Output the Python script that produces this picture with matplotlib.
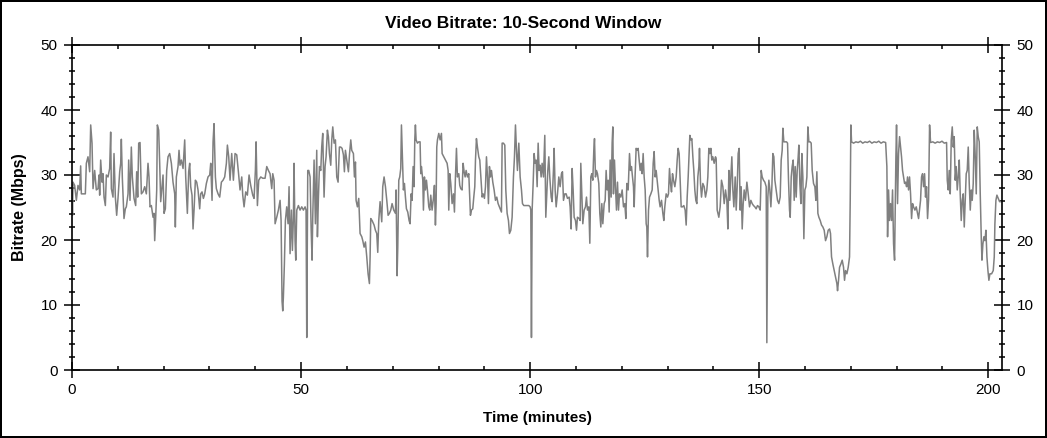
import matplotlib
matplotlib.use("Agg")
import matplotlib.pyplot as plt
from matplotlib.ticker import MultipleLocator

# 10-second window bitrate (minutes, Mbps)
t_seg1 = [0.00, 0.10, 0.22, 0.58, 0.95, 1.31, 1.67, 1.89, 2.04, 2.40,
          2.91, 3.13, 3.49, 3.86, 4.08, 4.37, 4.59, 4.95, 5.31, 5.68,
          5.90, 6.04, 6.26, 6.55, 6.77, 6.99, 7.28, 7.50, 7.86, 8.22,
          8.44, 8.59, 8.95, 9.17, 9.46, 9.75, 10.04, 10.41, 10.63, 10.77,
          10.99, 11.35, 11.64, 11.86, 12.23, 12.37, 12.66, 12.95, 13.17, 13.54,
          13.90, 14.12, 14.34, 14.56, 14.85, 15.14, 15.50, 15.87, 16.23, 16.59,
          16.81, 17.03, 17.32, 17.69, 17.90, 18.05, 18.27, 18.49, 18.63, 18.92,
          19.14, 19.36, 19.65, 19.87, 20.09, 20.38, 20.67, 20.96, 21.32, 21.69,
          22.05, 22.42, 22.56, 22.78, 23.14, 23.36, 23.58, 23.87, 24.24, 24.60,
          24.82, 25.18, 25.47, 25.69, 25.91, 26.20, 26.42, 26.64, 26.93, 27.22,
          27.51, 27.87, 28.09, 28.38, 28.68, 28.97, 29.33, 29.69, 30.06, 30.28,
          30.57, 30.79, 31.00, 31.30, 31.51, 31.88, 32.24, 32.61, 32.97, 33.33,
          33.70, 33.92, 34.21]
v_seg1 = [28.4, 23.8, 28.9, 28.4, 26.1, 28.4, 27.7, 31.4, 27.1, 27.1,
          27.1, 31.8, 32.8, 30.5, 37.7, 34.9, 27.9, 30.7, 27.7, 27.9,
          30.0, 26.9, 32.3, 28.9, 30.2, 26.6, 25.3, 30.0, 29.7, 31.0,
          36.6, 27.9, 26.6, 33.3, 26.6, 23.8, 26.4, 30.5, 31.8, 35.5,
          29.5, 23.3, 24.8, 25.1, 27.1, 32.3, 26.1, 34.3, 29.7, 26.4,
          25.3, 30.5, 26.6, 34.9, 35.0, 27.1, 27.4, 28.2, 27.1, 31.8,
          29.7, 25.1, 25.3, 23.5, 24.1, 19.9, 23.5, 27.7, 37.7, 36.9,
          31.8, 25.9, 28.2, 30.0, 24.1, 24.8, 30.7, 32.8, 33.3, 31.8,
          28.9, 27.1, 22.0, 29.7, 31.3, 33.8, 31.5, 32.3, 31.0, 35.4,
          29.7, 24.1, 30.5, 31.8, 28.2, 26.9, 21.7, 24.6, 29.2, 28.9,
          27.7, 24.8, 27.1, 27.4, 26.4, 27.1, 28.7, 29.7, 30.0, 31.8,
          26.1, 35.1, 37.9, 29.7, 27.9, 27.1, 26.6, 28.9, 29.2, 29.7,
          31.8, 34.6, 32.8]

t_seg2 = [34.50, 34.86, 35.23, 35.59, 35.96, 36.32, 36.68, 37.05, 37.27, 37.56,
          37.92, 38.28, 38.65, 39.01, 39.45, 39.74, 40.03, 40.18, 40.47, 40.76,
          41.20, 41.63, 42.14, 42.51, 42.87, 43.23, 43.60, 43.82, 44.11, 44.33,
          44.69, 45.05, 45.42, 45.64, 45.85, 46.00, 46.14, 46.36, 46.58, 46.87,
          47.16, 47.38, 47.60, 47.89, 48.11, 48.33, 48.47, 48.69, 48.84, 49.06,
          49.42, 49.78, 50.15, 50.51, 50.88, 51.09, 51.24, 51.46, 51.68, 51.97,
          52.19, 52.40, 52.55, 52.84, 53.13, 53.42, 53.57, 53.79, 54.01, 54.30,
          54.51, 54.73, 55.02, 55.24, 55.46, 55.75, 55.97, 56.19, 56.48, 56.70,
          56.92, 57.21, 57.50, 57.79, 58.08, 58.37, 58.66, 58.95, 59.25, 59.46,
          59.68, 59.97, 60.34, 60.56, 60.85, 61.06, 61.43, 61.65, 61.87, 62.01,
          62.30, 62.59, 62.88, 63.25, 63.47, 63.76, 64.05, 64.34, 64.63, 64.92,
          65.07, 65.21, 65.50, 65.94, 66.23, 66.52, 66.74, 66.96, 67.25, 67.61,
          67.83, 68.12, 68.42, 68.71, 69.00, 69.29, 69.58]
v_seg2 = [29.2, 33.3, 29.2, 33.3, 33.1, 30.5, 27.7, 29.7, 26.9, 25.1,
          27.4, 26.9, 30.0, 28.4, 26.9, 26.4, 30.7, 35.1, 25.3, 29.2,
          29.7, 29.5, 29.5, 31.3, 30.7, 30.2, 27.9, 30.2, 29.2, 22.5,
          23.5, 24.6, 26.1, 23.0, 10.6, 9.1, 11.2, 16.3, 23.0, 25.1,
          22.5, 28.2, 17.9, 24.6, 18.4, 23.5, 31.8, 19.9, 16.9, 24.6,
          25.3, 24.6, 25.1, 24.6, 25.1, 24.6, 5.0, 30.7, 30.7, 29.7,
          22.0, 16.9, 23.5, 32.3, 22.5, 33.8, 20.5, 26.6, 31.3, 30.7,
          34.3, 36.4, 26.6, 31.3, 32.8, 36.9, 35.9, 33.3, 31.5, 35.4,
          37.4, 34.9, 35.4, 29.7, 28.9, 34.3, 34.3, 34.1, 33.1, 30.5,
          33.8, 32.3, 30.5, 33.1, 35.4, 33.8, 33.3, 29.7, 32.0, 26.1,
          25.1, 26.4, 21.0, 20.5, 19.9, 18.9, 19.7, 17.4, 14.8, 13.3,
          17.4, 23.3, 23.0, 22.3, 21.5, 21.0, 18.1, 23.0, 25.9, 22.8,
          28.2, 29.7, 28.2, 26.1, 23.8, 24.1, 24.6]

t_seg3 = [69.87, 70.23, 70.60, 70.74, 70.96, 71.11, 71.33, 71.54, 71.76, 71.91,
          72.13, 72.34, 72.56, 72.78, 73.00, 73.29, 73.58, 73.80, 74.02, 74.24,
          74.46, 74.67, 74.82, 74.96, 75.11, 75.40, 75.69, 75.98, 76.13, 76.27,
          76.57, 76.71, 76.93, 77.15, 77.37, 77.58, 77.88, 78.09, 78.31, 78.60,
          78.89, 79.11, 79.33, 79.48, 79.62, 79.77, 80.06, 80.35, 80.64, 80.79,
          81.15, 81.51, 81.88, 82.10, 82.24, 82.46, 82.68, 82.97, 83.26, 83.48,
          83.70, 83.92, 84.13, 84.43, 84.64, 84.86, 85.15, 85.37, 85.59, 85.81,
          86.03, 86.32, 86.61, 86.76, 86.97, 87.19, 87.48, 87.70, 87.92, 88.07,
          88.28, 88.50, 88.79, 89.01, 89.23, 89.38, 89.52, 89.74, 90.03, 90.25,
          90.47, 90.69, 90.90, 91.12, 91.34, 91.56, 91.85, 92.14, 92.43, 92.72,
          93.01, 93.30, 93.60, 93.74, 93.89, 94.18, 94.47, 94.69, 94.98, 95.27,
          95.49, 95.78, 96.07, 96.36, 96.58, 96.80, 97.02, 97.23, 97.53, 97.82,
          98.11, 98.33, 98.62, 98.98, 99.35, 99.71, 100.00, 100.15, 100.29, 100.44,
          100.66, 100.87, 101.09, 101.31, 101.53, 101.75, 101.97, 102.18, 102.40, 102.62,
          102.91, 103.20, 103.42, 103.64, 103.86, 104.08, 104.29, 104.59, 104.80, 105.09]
v_seg3 = [25.6, 24.6, 24.1, 27.7, 14.5, 18.9, 29.2, 29.7, 31.0, 37.7,
          32.3, 27.7, 28.7, 26.6, 24.8, 24.3, 23.0, 22.5, 27.1, 26.1,
          31.3, 28.2, 35.4, 37.7, 35.4, 34.9, 35.1, 35.1, 30.2, 31.3,
          29.2, 24.6, 29.7, 27.7, 29.2, 27.7, 25.1, 24.6, 26.9, 24.6,
          26.4, 28.4, 22.3, 25.6, 34.3, 35.4, 36.4, 35.4, 36.4, 33.3,
          32.8, 32.3, 31.8, 30.7, 24.6, 30.2, 28.7, 25.6, 27.1, 24.3,
          29.7, 34.1, 29.7, 30.2, 28.4, 27.9, 27.7, 31.8, 30.5, 29.7,
          30.7, 29.7, 30.2, 27.7, 23.8, 24.6, 24.8, 26.6, 28.2, 32.3,
          35.6, 34.3, 32.8, 32.3, 29.7, 28.2, 26.6, 27.1, 26.4, 28.2,
          32.8, 29.7, 25.6, 31.3, 29.7, 30.7, 28.9, 27.7, 26.1, 26.6,
          25.6, 25.1, 24.6, 24.3, 34.9, 34.9, 34.6, 27.7, 24.1, 23.0,
          21.0, 21.5, 23.5, 29.7, 32.8, 37.7, 33.8, 30.7, 34.9, 29.7,
          27.7, 25.6, 25.3, 25.3, 25.3, 25.3, 25.1, 24.6, 5.0, 24.6,
          28.7, 33.3, 31.8, 32.3, 28.2, 34.9, 30.7, 31.5, 29.7, 31.8,
          29.7, 36.1, 23.5, 27.1, 30.7, 32.8, 29.7, 26.6, 25.9, 30.7]

t_seg4 = [105.24, 105.46, 105.68, 105.97, 106.26, 106.55, 106.84, 107.06, 107.28, 107.57,
          107.86, 108.15, 108.52, 108.73, 108.95, 109.17, 109.39, 109.61, 109.90, 110.12,
          110.33, 110.70, 110.92, 111.06, 111.28, 111.50, 111.79, 112.08, 112.30, 112.52,
          112.81, 113.03, 113.25, 113.46, 113.68, 113.90, 114.05, 114.26, 114.48, 114.70,
          114.99, 115.21, 115.43, 115.65, 115.87, 116.16, 116.38, 116.59, 116.81, 117.03,
          117.25, 117.47, 117.69, 117.90, 118.05, 118.19, 118.41, 118.63, 118.85, 119.07,
          119.29, 119.50, 119.80, 120.09, 120.38, 120.67, 120.89, 121.11, 121.40, 121.69,
          121.91, 122.12, 122.34, 122.56, 122.71, 122.93, 123.14, 123.36, 123.58, 123.80,
          124.02, 124.24, 124.45, 124.67, 124.89, 125.11, 125.33, 125.47, 125.62, 125.84,
          126.06, 126.35, 126.64, 126.86, 127.07, 127.29, 127.51, 127.73, 127.95, 128.17,
          128.38, 128.68, 128.97, 129.18, 129.40, 129.69, 129.99, 130.20, 130.42, 130.64,
          130.86, 131.08, 131.30, 131.59, 131.88, 132.10, 132.31, 132.53, 132.75, 132.97,
          133.26, 133.55, 133.84, 134.06, 134.28, 134.50, 134.72, 134.86, 135.08, 135.30,
          135.52, 135.73, 135.95, 136.17, 136.39, 136.61, 136.83, 136.97, 137.19, 137.41,
          137.70, 137.99, 138.28, 138.57, 138.79, 139.01, 139.23, 139.45, 139.66, 139.88,
          140.17, 140.46]
v_seg4 = [34.1, 27.7, 25.1, 27.1, 29.7, 28.2, 30.2, 30.5, 26.1, 27.1,
          27.1, 26.4, 26.6, 25.1, 21.7, 31.0, 27.7, 23.5, 23.0, 21.5,
          23.5, 23.3, 23.0, 31.8, 27.1, 22.5, 24.6, 25.1, 26.6, 24.6,
          25.1, 19.5, 29.7, 30.2, 29.2, 33.8, 35.6, 29.7, 30.7, 30.2,
          28.7, 24.1, 22.0, 25.6, 22.5, 25.6, 26.1, 30.7, 27.7, 29.2,
          24.3, 32.3, 26.6, 34.9, 37.4, 27.1, 32.3, 28.2, 24.6, 28.9,
          24.6, 27.1, 26.6, 27.7, 25.1, 25.6, 23.3, 28.7, 27.7, 33.3,
          30.7, 31.3, 29.7, 28.2, 25.1, 30.2, 34.1, 33.8, 34.1, 32.3,
          30.7, 31.8, 30.2, 33.3, 29.7, 27.7, 22.5, 22.0, 17.4, 24.6,
          26.6, 27.1, 27.7, 31.8, 33.6, 29.7, 30.7, 29.2, 27.7, 26.1,
          25.1, 26.1, 24.1, 23.0, 25.1, 27.1, 26.6, 27.1, 31.0, 28.7,
          27.4, 30.2, 29.2, 28.2, 29.7, 32.3, 34.1, 33.3, 29.2, 25.1,
          25.1, 25.3, 24.6, 22.3, 26.6, 29.7, 33.8, 36.1, 35.4, 35.6,
          32.8, 30.7, 27.7, 26.1, 25.6, 29.7, 31.3, 34.1, 28.7, 26.6,
          28.7, 28.2, 26.6, 27.7, 29.7, 34.1, 33.3, 34.1, 32.3, 32.8,
          31.8, 32.8]

t_seg5 = [140.61, 140.83, 141.19, 141.48, 141.77, 142.07, 142.36, 142.65, 142.94, 143.16,
          143.38, 143.59, 143.81, 144.03, 144.25, 144.47, 144.76, 144.98, 145.20, 145.41,
          145.63, 145.85, 146.07, 146.29, 146.51, 146.72, 147.01, 147.31, 147.60, 147.89,
          148.18, 148.47, 148.76, 149.05, 149.34, 149.63, 149.93, 150.22, 150.44, 150.65,
          150.94, 151.24, 151.53, 151.67, 151.89, 152.11, 152.33, 152.55, 152.77, 152.98,
          153.20, 153.42, 153.71, 154.00, 154.29, 154.58, 154.80, 155.02, 155.17, 155.38,
          155.68, 155.97, 156.19, 156.40, 156.62, 156.77, 156.99, 157.20, 157.42, 157.64,
          157.86, 158.08, 158.30, 158.51, 158.66, 158.88, 159.10, 159.31, 159.53, 159.75,
          159.97, 160.19, 160.41, 160.62, 160.84, 161.13, 161.35, 161.57, 161.86, 162.15,
          162.37, 162.59, 162.81, 163.03, 163.32, 163.61, 163.90, 164.19, 164.48, 164.77,
          165.06, 165.36, 165.57, 165.79, 166.08, 166.37, 166.67, 166.96, 167.10, 167.32,
          167.54, 167.83, 168.12, 168.41, 168.63, 168.85, 169.14, 169.43, 169.72, 169.87,
          170.01, 170.16, 170.6, 171.1, 171.6, 172.1, 172.6, 173.1, 173.6, 174.1,
          174.6, 175.1, 175.6, 176.1, 176.6, 177.1, 177.6]
v_seg5 = [32.5, 24.6, 23.5, 25.1, 29.2, 28.2, 25.6, 27.7, 26.1, 21.7,
          30.7, 26.1, 29.7, 32.8, 27.7, 25.1, 29.7, 24.6, 28.2, 33.3,
          34.1, 24.6, 28.2, 21.7, 25.6, 27.7, 26.1, 28.9, 27.1, 25.1,
          26.1, 25.6, 25.3, 25.1, 24.8, 25.3, 25.1, 24.6, 30.7, 29.7,
          29.2, 28.9, 28.2, 4.2, 26.6, 29.2, 27.7, 25.1, 28.2, 33.3,
          32.8, 29.2, 27.7, 26.1, 25.6, 26.6, 32.3, 33.8, 37.2, 35.1,
          35.1, 35.1, 34.9, 29.2, 24.6, 23.5, 29.7, 31.3, 32.3, 26.1,
          31.3, 26.6, 30.7, 32.8, 34.6, 28.7, 25.6, 33.3, 29.7, 20.2,
          27.7, 28.2, 29.7, 37.4, 35.1, 35.1, 34.9, 30.7, 28.7, 28.2,
          26.1, 30.5, 24.1, 23.5, 23.0, 22.3, 22.0, 21.5, 19.9, 20.5,
          21.5, 21.7, 21.0, 17.4, 16.3, 15.3, 14.3, 13.3, 12.2, 13.8,
          15.8, 16.3, 16.9, 15.8, 13.8, 15.3, 14.8, 15.8, 17.4, 26.1,
          37.7, 35.1, 34.9, 35.1, 35.0, 35.2, 34.9, 35.1, 35.0, 35.2,
          34.9, 35.1, 35.0, 35.2, 34.9, 35.1, 35.0]

t_seg6 = [177.87, 178.02, 178.24, 178.45, 178.67, 178.89, 179.11, 179.33, 179.55, 179.69,
          179.84, 179.98, 180.20, 180.42, 180.64, 180.86, 181.07, 181.29, 181.51, 181.73,
          181.95, 182.17, 182.38, 182.60, 182.82, 183.04, 183.26, 183.48, 183.69, 183.99,
          184.28, 184.57, 184.79, 185.00, 185.22, 185.44, 185.66, 185.88, 186.10, 186.31,
          186.53, 186.75, 186.97, 187.19, 187.41, 187.9, 188.4, 188.9, 189.4, 189.9,
          190.4, 190.90, 191.05, 191.26, 191.48, 191.70, 191.92, 192.14, 192.36, 192.57,
          192.79, 193.01, 193.23, 193.45, 193.67, 193.88, 194.10, 194.32, 194.54, 194.76,
          194.98, 195.19, 195.41, 195.63, 195.85, 196.07, 196.29, 196.50, 196.72, 196.94,
          197.16, 197.38, 197.60, 197.81, 198.03, 198.25, 198.47, 198.62, 198.83, 199.05,
          199.27, 199.49, 199.71, 199.93, 200.14, 200.36, 200.73, 201.09, 201.31, 201.45,
          201.67, 201.89, 202.18, 202.47, 202.76]
v_seg6 = [31.3, 20.5, 27.7, 23.0, 25.6, 23.0, 27.7, 19.4, 16.9, 24.6,
          32.8, 37.7, 25.6, 33.3, 35.9, 34.3, 32.8, 30.7, 29.7, 28.7,
          28.9, 28.2, 29.7, 27.7, 29.7, 27.1, 23.3, 25.6, 25.1, 24.6,
          25.1, 24.1, 23.3, 24.6, 26.1, 29.7, 30.2, 28.2, 30.2, 26.6,
          28.2, 23.3, 26.1, 37.7, 35.0, 35.1, 34.9, 35.1, 35.0, 35.2,
          34.9, 35.0, 29.2, 27.7, 30.7, 27.1, 35.4, 37.4, 34.3, 35.9,
          29.2, 31.3, 27.7, 29.7, 32.3, 27.1, 23.0, 26.1, 27.1, 22.0,
          26.1, 30.2, 30.7, 34.3, 28.7, 24.6, 27.7, 26.1, 28.7, 36.9,
          32.8, 27.1, 37.4, 35.9, 35.1, 27.1, 20.5, 16.9, 19.4, 20.5,
          19.9, 21.5, 17.4, 15.3, 13.8, 14.8, 14.8, 15.3, 17.4, 22.5,
          26.1, 26.9, 26.4, 25.9, 25.9]

minutes = t_seg1 + t_seg2 + t_seg3 + t_seg4 + t_seg5 + t_seg6
mbps = v_seg1 + v_seg2 + v_seg3 + v_seg4 + v_seg5 + v_seg6
assert len(minutes) == len(mbps), (len(minutes), len(mbps))

plt.rcParams['font.family'] = ['Liberation Sans', 'DejaVu Sans']

fig = plt.figure(figsize=(10.47, 4.38), dpi=100)
fig.patch.set_facecolor('white')
fig.patch.set_edgecolor('black')
fig.patch.set_linewidth(1.5)

ax = fig.add_axes([72/1047, 1 - 370/438, (1002-72)/1047, (370-45)/438])
ax.plot(minutes, mbps, color='#808080', linewidth=1.1)

ax.set_xlim(0, 203)
ax.set_ylim(0, 50)
ax.xaxis.set_major_locator(MultipleLocator(50))
ax.xaxis.set_minor_locator(MultipleLocator(10))
ax.yaxis.set_major_locator(MultipleLocator(10))
ax.yaxis.set_minor_locator(MultipleLocator(2))

for s in ax.spines.values():
    s.set_linewidth(1.2)

ax.tick_params(axis='both', which='both', top=True, right=True,
               labelright=True, labelsize=11, width=1.1, color='black')
ax.tick_params(axis='y', which='major', direction='inout', length=11, pad=5)
ax.tick_params(axis='y', which='minor', direction='inout', length=5)
ax.tick_params(axis='x', which='major', direction='inout', length=11, pad=4)
ax.tick_params(axis='x', which='minor', direction='in', length=3)

ax.set_xlabel('Time (minutes)', fontsize=11, fontweight='bold', labelpad=10)
ax.set_ylabel('Bitrate (Mbps)', fontsize=11.5, fontweight='bold', labelpad=10)
fig.text(0.5, 1 - 28.5/438, 'Video Bitrate: 10-Second Window',
         ha='center', va='baseline', fontsize=12.5, fontweight='bold')

fig.savefig('out.png', dpi=100)
